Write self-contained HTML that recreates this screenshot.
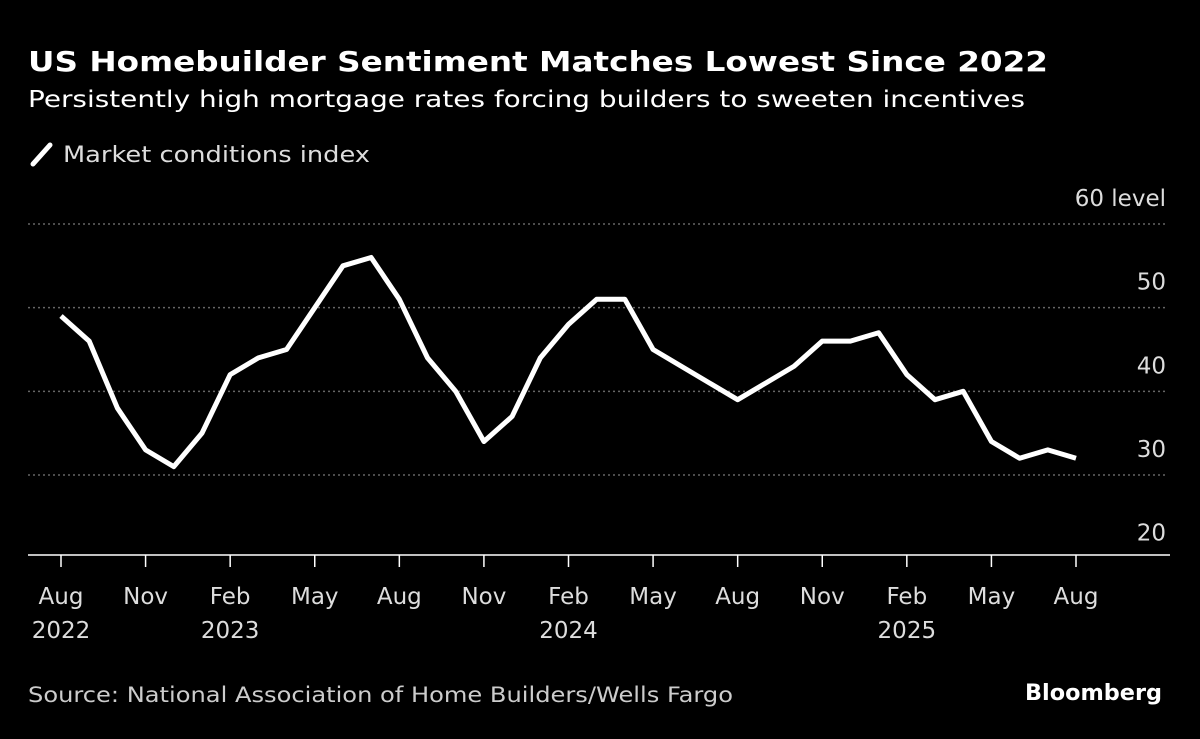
<!DOCTYPE html>
<html><head><meta charset="utf-8"><style>
body{margin:0;background:#000;width:1200px;height:735px;overflow:hidden;font-family:"DejaVu Sans",sans-serif;color:#fff}
svg text{font-family:"DejaVu Sans","Liberation Sans",sans-serif}
</style></head><body>
<svg width="1200" height="735">
<text x="28" y="71" font-size="28" font-weight="bold" fill="#fff" textLength="1020" lengthAdjust="spacingAndGlyphs">US Homebuilder Sentiment Matches Lowest Since 2022</text>
<text x="28" y="107" font-size="23" fill="#fff" textLength="997" lengthAdjust="spacingAndGlyphs">Persistently high mortgage rates forcing builders to sweeten incentives</text>
<line x1="33" y1="164" x2="50" y2="145" stroke="#fff" stroke-width="5" stroke-linecap="round"/>
<text x="63" y="162" font-size="22" fill="#ddd" textLength="307" lengthAdjust="spacingAndGlyphs">Market conditions index</text>
<g id="grid"></g><g id="xaxis"></g>
<path id="line" fill="none" stroke="#fff" stroke-width="5" stroke-linejoin="round"/>
<text x="28" y="702" font-size="21" fill="#ccc" textLength="705" lengthAdjust="spacingAndGlyphs">Source: National Association of Home Builders/Wells Fargo</text>
<text x="1025" y="700" font-size="22" font-weight="bold" fill="#fff" textLength="137" lengthAdjust="spacingAndGlyphs">Bloomberg</text>
</svg>
<script>
const values=[49,46,38,33,31,35,42,44,45,50,55,56,51,44,40,34,37,44,48,51,51,45,43,41,39,41,43,46,46,47,42,39,40,34,32,33,32];
const yTicks=[20,30,40,50,60];
const xMonths=["Aug","Nov","Feb","May","Aug","Nov","Feb","May","Aug","Nov","Feb","May","Aug"];
const xYears=["2022","","2023","","","","2024","","","","2025","",""];
const ns="http://www.w3.org/2000/svg";
const x=i=>61+i*(1076-61)/36;
const y=v=>224+(60-v)*(475-224)/30;
const grid=document.getElementById('grid'),xa=document.getElementById('xaxis');
function mk(tag,attrs,parent){const e=document.createElementNS(ns,tag);for(const k in attrs)e.setAttribute(k,attrs[k]);parent.appendChild(e);return e;}
yTicks.forEach(t=>{
 if(t>20){const l=mk('line',{x1:28,x2:1166,y1:y(t),y2:y(t),stroke:'#666','stroke-width':1.5,'stroke-dasharray':'2,3'},grid);
 
 }
 const tx=mk('text',{x:1166,y:y(t)-18,'font-size':23,fill:'#ddd','text-anchor':'end'},grid);
 tx.textContent=t===60?'60 level':t;
 
 
});
const base=mk('line',{x1:28,x2:1170,y1:555,y2:555,stroke:'#fff','stroke-width':1.5},xa);


xMonths.forEach((m,k)=>{
 const xi=x(k*3);
 const tk=mk('line',{x1:xi,x2:xi,y1:555,y2:567,stroke:'#fff','stroke-width':1.5},xa);
 
 
 const t=mk('text',{x:xi,y:604,'font-size':23,fill:'#ddd','text-anchor':'middle'},xa);
 t.textContent=m;
 
 
 if(xYears[k]){const t2=mk('text',{x:xi,y:638,'font-size':23,fill:'#ddd','text-anchor':'middle'},xa);
 t2.textContent=xYears[k];
 
 }
});
document.getElementById('line').setAttribute('d',values.map((v,i)=>(i?'L':'M')+x(i)+','+y(v)).join(''));
</script>
</body></html>
